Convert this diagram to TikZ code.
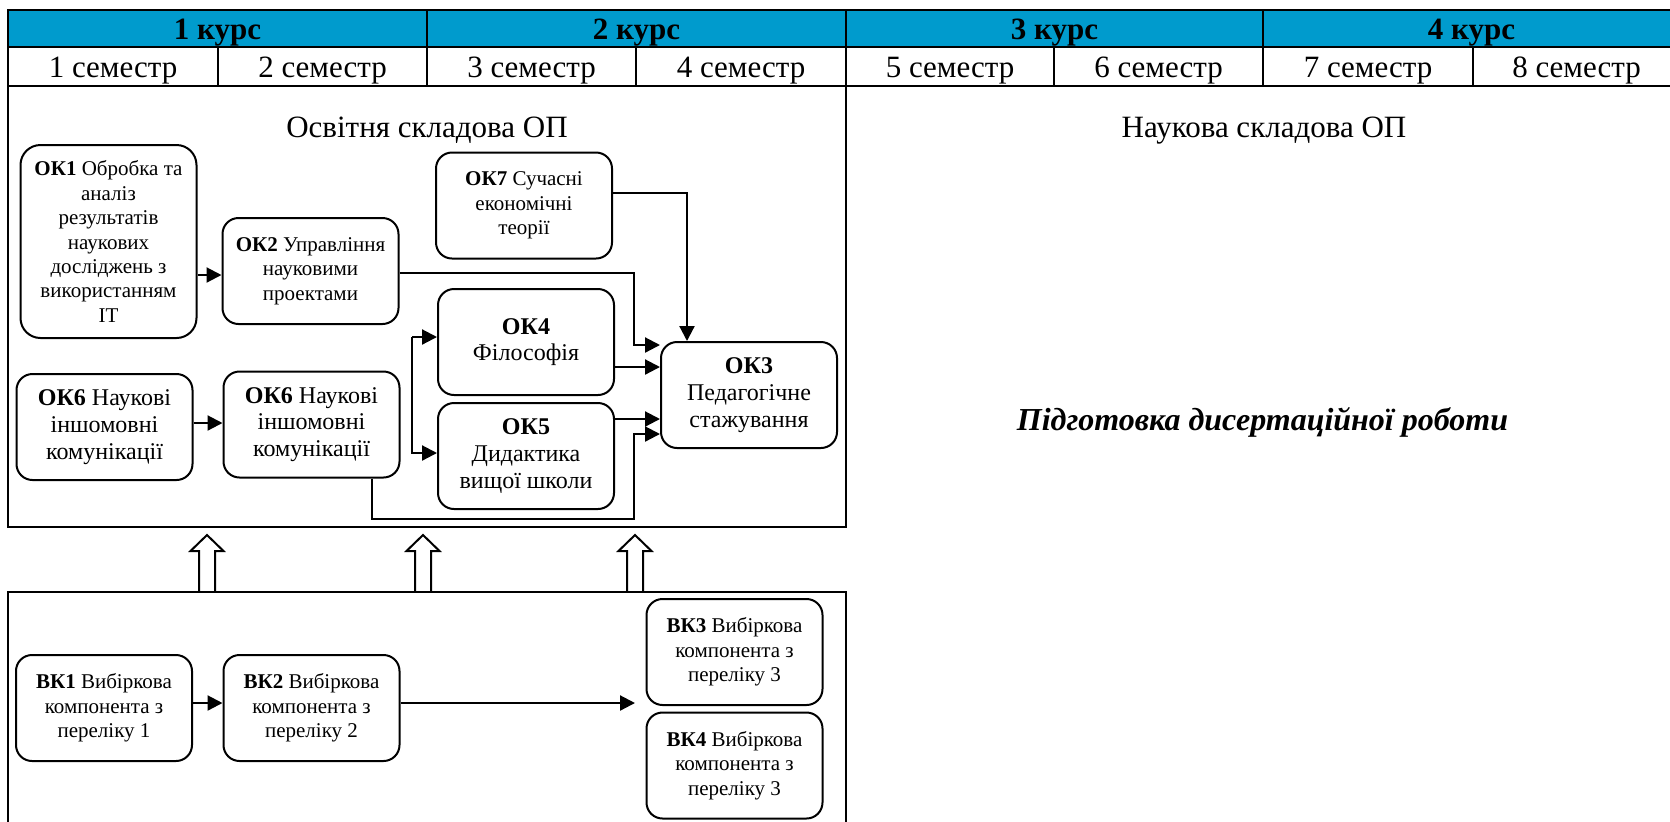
\documentclass[tikz,border=0pt]{standalone}
\usepackage{fontspec}
\setmainfont{Liberation Serif}
\usetikzlibrary{arrows.meta,calc}
\definecolor{hdr}{RGB}{0,155,205}
\begin{document}
\begin{tikzpicture}[x=0.5pt,y=-0.5pt,
  box/.style={draw, line width=1pt, rounded corners=8pt, align=center, inner sep=0pt, minimum width=88pt, minimum height=53pt},
  sm/.style={font=\fontsize{10.5}{12.2}\selectfont},
  bg/.style={font=\fontsize{12}{13.4}\selectfont},
  arr/.style={line width=1.1pt, -{Triangle[length=7.5pt,width=7.5pt]}},
  ln/.style={line width=1.1pt},
  frame/.style={line width=1.3pt},
  lab/.style={font=\fontsize{15.5}{18}\selectfont, anchor=base, inner sep=0pt},
  hollow/.style={draw, line width=1pt, fill=white}
]
\useasboundingbox (0,0) rectangle (1670,821);
\clip (0,0) rectangle (1670,821);

% hollow arrows
\foreach \x in {207,423,635}
  \draw[hollow] (\x-8,592) -- (\x-8,551) -- (\x-16.5,551) -- (\x,535) -- (\x+16.5,551) -- (\x+8,551) -- (\x+8,592);

% header table
\fill[hdr] (8,10) rectangle (1690,47);
\draw[frame] (8,10) rectangle (1690,86);
\draw[frame] (8,47) -- (1690,47);
\foreach \x in {427,846,1263} \draw[frame] (\x,10) -- (\x,47);
\foreach \x in {218,427,636,846,1054,1263,1473} \draw[frame] (\x,47) -- (\x,86);

\node[lab] (c1) at (217.5,39) {\textbf{1 курс}};
\node[lab] (c2) at (636.5,39) {\textbf{2 курс}};
\node[lab] (c3) at (1054.5,39) {\textbf{3 курс}};
\node[lab] (c4) at (1471.5,39) {\textbf{4 курс}};

\node[lab] (s1) at (113,77) {1 семестр};
\node[lab] (s2) at (322.5,77) {2 семестр};
\node[lab] (s3) at (531.5,77) {3 семестр};
\node[lab] (s4) at (741,77) {4 семестр};
\node[lab] (s5) at (950,77) {5 семестр};
\node[lab] (s6) at (1158.5,77) {6 семестр};
\node[lab] (s7) at (1368,77) {7 семестр};
\node[lab] (s8) at (1576.5,77) {8 семестр};

% frames
\draw[frame] (8,86) rectangle (846,527);
\draw[frame] (8,592) rectangle (846,840);

\node[lab] (t1) at (427,137) {Освітня складова ОП};
\node[lab] (t2) at (1264,137) {Наукова складова ОП};
\node[lab, font=\fontsize{16}{19}\selectfont\bfseries\itshape] (t3) at (1262.5,430) {Підготовка дисертаційної роботи};

% nodes
\node[box,sm,minimum height=96.5pt,rounded corners=10pt] (OK1) at (108.5,241.5) {\textbf{ОК1} Обробка та\\аналіз\\результатів\\наукових\\досліджень з\\використанням\\ІТ};
\node[box,sm] (OK2) at (310.5,271) {\textbf{ОК2} Управління\\науковими\\проектами};
\node[box,sm] (OK7) at (524,205.5) {\textbf{ОК7} Сучасні\\економічні\\теорії};
\node[box,bg] (OK4) at (526,342) {\textbf{ОК4}\\Філософія};
\node[box,bg] (OK5) at (526,456) {\textbf{ОК5}\\Дидактика\\вищої школи};
\node[box,bg] (OK3) at (749,395) {\textbf{ОК3}\\Педагогічне\\стажування};
\node[box,bg] (OK6a) at (104.5,427) {\textbf{ОК6} Наукові\\іншомовні\\комунікації};
\node[box,bg] (OK6b) at (311.5,424.5) {\textbf{ОК6} Наукові\\іншомовні\\комунікації};

\node[box,sm] (VK1) at (104,708) {\textbf{ВК1} Вибіркова\\компонента з\\переліку 1};
\node[box,sm] (VK2) at (311.5,708) {\textbf{ВК2} Вибіркова\\компонента з\\переліку 2};
\node[box,sm] (VK3) at (734.5,652) {\textbf{ВК3} Вибіркова\\компонента з\\переліку 3};
\node[box,sm] (VK4) at (734.5,765.5) {\textbf{ВК4} Вибіркова\\компонента з\\переліку 3};

% connectors
\coordinate (k1) at (0,275);
\draw[arr] (OK1.east |- k1) -- (OK2.west |- k1);
\coordinate (k6a) at (0,423);
\draw[arr] (OK6a.east |- k6a) -- (OK6b.west |- k6a);

\coordinate (br1) at (412,337);
\coordinate (br2) at (412,453);
\draw[arr] (br1) -- (OK4.west |- br1);
\draw[arr] (br1) -- (br2) -- (OK5.west |- br2);

\coordinate (k2a) at (634,273);
\coordinate (k2) at (634,345);
\draw[arr] (OK2.east |- k2a) -- (k2a) -- (k2) -- (OK3.west |- k2);

\coordinate (k7) at (687,193);
\draw[arr] (OK7.east |- k7) -- (k7) -- (k7 |- OK3.north);

\coordinate (k4) at (640,367);
\draw[arr] (OK4.east |- k4) -- (OK3.west |- k4);
\coordinate (k5) at (640,419);
\draw[arr] (OK5.east |- k5) -- (OK3.west |- k5);

\coordinate (k6) at (372,519);
\coordinate (k6b) at (634,434);
\draw[arr] (OK6b.south -| k6) -- (k6) -| (k6b) -- (OK3.west |- k6b);

\coordinate (kv) at (0,703);
\draw[arr] (VK1.east |- kv) -- (VK2.west |- kv);
\coordinate (kv2) at (635,703);
\draw[arr] (VK2.east |- kv) -- (kv2);
\end{tikzpicture}
\end{document}
